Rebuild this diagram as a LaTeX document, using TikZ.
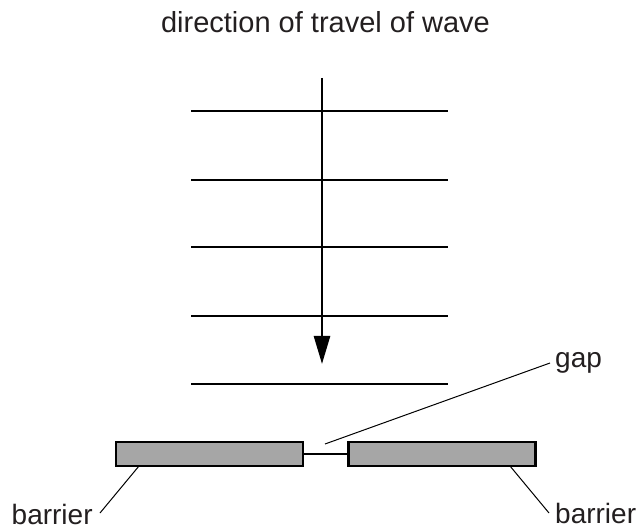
\documentclass[tikz,border=0pt]{standalone}
\usepackage{fontspec}
\setmainfont{Liberation Sans}
\usetikzlibrary{arrows.meta}
\definecolor{bargray}{HTML}{A6A6A6}
\definecolor{inkgray}{HTML}{231F20}
\begin{document}
\begin{tikzpicture}[x=1pt,y=1pt,
  lbl/.style={inner sep=0pt,font=\fontsize{28}{34}\selectfont,text=inkgray},
  wave/.style={line width=2.8pt},
  barrierbox/.style={draw,line width=2.5pt,fill=bargray,minimum width=187pt,minimum height=24pt,inner sep=0pt},
  leader/.style={line width=1pt}]
\useasboundingbox (0,0) rectangle (640,-529);
\node[lbl,anchor=base,font=\fontsize{29}{34}\selectfont] (title) at (325.5,-33) {direction of travel of wave};
\foreach \y [count=\i] in {111,180,247,316,384}{
  \coordinate (wl\i) at (191,-\y);
  \coordinate (wr\i) at (448,-\y);
  \draw[wave] (wl\i) -- (wr\i);
}
\coordinate (atop) at (322,-78);
\coordinate (atip) at (322,-364);
\draw[line width=2.6pt,-{Triangle[length=28pt,width=16pt]}] (atop) -- (atip);
\node[barrierbox] (bl) at (209.5,-454) {};
\node[barrierbox] (br) at (441.75,-454) {};
\draw[line width=2.5pt] (bl.east) -- (br.west);
\node[lbl,anchor=base west] (gap) at (555,-367) {gap};
\node[lbl,anchor=base west] (barL) at (11.5,-524) {barrier};
\node[lbl,anchor=base west] (barR) at (555,-523.5) {barrier};
\coordinate (gapA) at (325,-444);
\coordinate (gapB) at (550,-363);
\draw[leader] (gapA) -- (gapB);
\coordinate (blA) at (139,-466);
\coordinate (blB) at (100,-513);
\draw[leader] (blA) -- (blB);
\coordinate (brA) at (510,-466);
\coordinate (brB) at (549,-513);
\draw[leader] (brA) -- (brB);
\end{tikzpicture}
\end{document}
